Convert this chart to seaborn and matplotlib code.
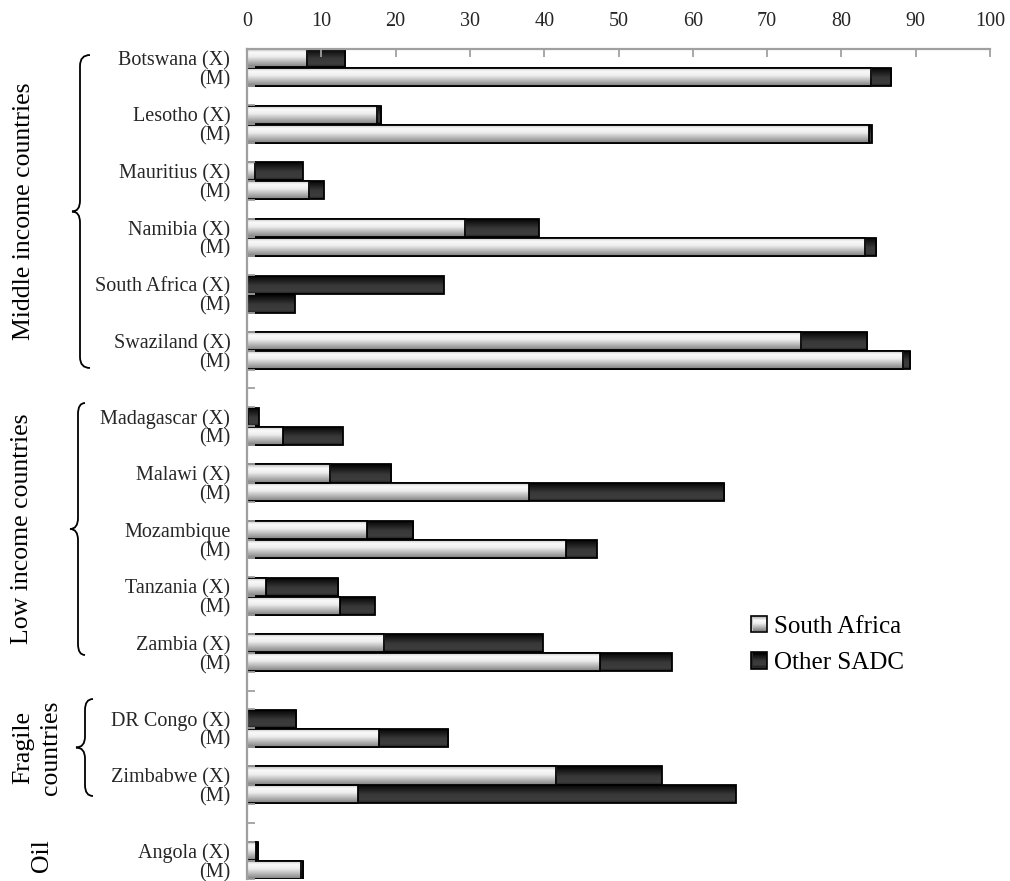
import numpy as np
import pandas as pd
import matplotlib
matplotlib.use("Agg")
import matplotlib.pyplot as plt
import seaborn as sns
from matplotlib.patches import Patch, PathPatch
from matplotlib.path import Path
from matplotlib.image import BboxImage
from matplotlib.transforms import Bbox, Affine2D

# ---------------------------------------------------------------- data
countries = ["Botswana", "Lesotho", "Mauritius", "Namibia", "South Africa", "Swaziland",
             "Madagascar", "Malawi", "Mozambique", "Tanzania", "Zambia",
             "DR Congo", "Zimbabwe", "Angola"]
export_labels = ["Botswana (X)", "Lesotho (X)", "Mauritius (X)", "Namibia (X)",
                 "South Africa (X)", "Swaziland (X)", "Madagascar (X)", "Malawi (X)",
                 "Mozambique", "Tanzania (X)", "Zambia (X)", "DR Congo (X)",
                 "Zimbabwe (X)", "Angola (X)"]
import_label = "(M)"
group_names = ["Middle income countries", "Low income countries", "Fragile\ncountries", "Oil"]
group_sizes = [6, 5, 2, 1]

# share of exports (X) / imports (M) going to / coming from, in %
sa_exports = [8.1, 17.5, 1.1, 29.4, 0.0, 74.6, 0.1, 11.2, 16.1, 2.5, 18.5, 0.0, 41.6, 1.2]
other_exports = [5.1, 0.6, 6.4, 9.9, 26.5, 8.9, 1.5, 8.2, 6.3, 9.8, 21.3, 6.6, 14.2, 0.3]
sa_imports = [84.0, 83.7, 8.4, 83.2, 0.0, 88.3, 4.8, 37.9, 42.9, 12.5, 47.5, 17.7, 14.9, 7.3]
other_imports = [2.7, 0.4, 1.9, 1.5, 6.4, 1.0, 8.1, 26.3, 4.2, 4.7, 9.7, 9.4, 50.9, 0.3]

series_names = ["South Africa", "Other SADC"]
x_ticks = list(range(0, 101, 10))

# ---------------------------------------------------------------- row layout
order, tick_text = [], []
records = []
i = 0
for gi, n in enumerate(group_sizes):
    for j in range(n):
        c = countries[i]
        for flow, lab, sa, oth in (("X", export_labels[i], sa_exports[i], other_exports[i]),
                                   ("M", import_label, sa_imports[i], other_imports[i])):
            key = f"{c}|{flow}"
            order.append(key)
            tick_text.append(lab)
            records.append({"row": key, "sa": sa, "total": sa + oth})
        if j < n - 1:
            order.append(f"gap{len(order)}")
            tick_text.append("")
        i += 1
    if gi < len(group_sizes) - 1:
        for _ in range(2):
            order.append(f"gap{len(order)}")
            tick_text.append("")
df = pd.DataFrame(records)
n_rows = len(order)

# ---------------------------------------------------------------- style
sns.set_style("ticks")
plt.rcParams["font.family"] = ["Liberation Serif", "DejaVu Serif"]
plt.rcParams["text.color"] = "black"

W, H = 1010, 881
fig = plt.figure(figsize=(W / 100, H / 100), dpi=100)
ax = fig.add_axes([247 / W, 1 - 879.4 / H, (990 - 247) / W, (879.4 - 48.6) / H])

dark_mid, light_mid = "#2a2a2a", "#c8c8c8"
bar_w = 0.96
sns.barplot(data=df, x="total", y="row", order=order, orient="h", color=dark_mid,
            saturation=1, width=bar_w, edgecolor="black", linewidth=1.3,
            errorbar=None, ax=ax)
n_dark = len(ax.patches)
sns.barplot(data=df[df["sa"] > 0], x="sa", y="row", order=order, orient="h",
            color=light_mid, saturation=1, width=bar_w, edgecolor="black",
            linewidth=1.3, errorbar=None, ax=ax)


def ramp(stops, n=64):
    t = np.linspace(0, 1, n)
    v = np.interp(t, [s[0] for s in stops], [s[1] for s in stops])
    return np.repeat(np.repeat(v[:, None, None], 2, axis=1), 3, axis=2)


light_grad = ramp([(0, 0.72), (0.22, 0.98), (0.45, 0.93), (1.0, 0.50)])
dark_grad = ramp([(0, 0.0), (0.55, 0.22), (0.85, 0.24), (1.0, 0.12)])

# gradient fills clipped to each bar
for k, p in enumerate(list(ax.patches)):
    grad = dark_grad if k < n_dark else light_grad
    z = 2 if k < n_dark else 4
    x0, y0, w, h = p.get_x(), p.get_y(), p.get_width(), p.get_height()
    im = ax.imshow(grad, extent=(x0, x0 + w, y0 + h, y0), aspect="auto",
                   interpolation="bilinear", zorder=z)
    im.set_clip_path(p)
    p.set_facecolor("none")
    p.set_zorder(z + 0.5)

ax.set_xlim(0, 100)
ax.set_ylim(n_rows - 0.5, -0.5)
ax.set_xlabel("")
ax.set_ylabel("")

# axes: value axis on top, category axis on the left
grey = "#a0a0a0"
ax.xaxis.tick_top()
ax.set_xticks(x_ticks)
ax.set_xticklabels([str(t) for t in x_ticks])
ax.tick_params(axis="x", which="major", direction="in", length=6, width=1.3,
               color=grey, pad=12.5, labelsize=14.5, top=True, bottom=False)
ax.set_yticks(range(n_rows))
ax.set_yticklabels(tick_text)
ax.tick_params(axis="y", which="major", length=0, pad=12, labelsize=14.5, left=True)
ax.set_yticks(np.arange(-0.5, n_rows, 1.0), minor=True)
ax.tick_params(axis="y", which="minor", direction="in", length=6, width=1.3,
               color=grey, left=True)
for s in ("right", "bottom"):
    ax.spines[s].set_visible(False)
for s in ("left", "top"):
    ax.spines[s].set_color(grey)
    ax.spines[s].set_linewidth(1.6)
    ax.spines[s].set_zorder(10)
ax.xaxis.set_zorder(10)
ax.yaxis.set_zorder(10)

# legend
handles = [Patch(facecolor=light_mid, edgecolor="black", linewidth=1.2, label=series_names[0]),
           Patch(facecolor=dark_mid, edgecolor="black", linewidth=1.2, label=series_names[1])]
leg = ax.legend(handles=handles, loc="center left", bbox_to_anchor=(751 / W, 1 - 645 / H),
                bbox_transform=fig.transFigure, frameon=False, fontsize=18,
                handlelength=0.62, handleheight=0.62, handletextpad=0.3,
                labelspacing=0.58, borderpad=0, borderaxespad=0)
leg.set_zorder(20)

# group braces and labels, positioned in pixel space (origin top-left)
px = Affine2D().scale(1 / W, -1 / H).translate(0, 1) + fig.transFigure


def brace(x_end, x_col, x_tip, y_top, y_bot, r=11):
    ym = (y_top + y_bot) / 2
    verts = [(x_end, y_top), (x_col, y_top), (x_col, y_top + r),
             (x_col, ym - r),
             (x_col, ym), (x_tip, ym),
             (x_col, ym), (x_col, ym + r),
             (x_col, y_bot - r),
             (x_col, y_bot), (x_end, y_bot)]
    codes = [Path.MOVETO, Path.CURVE3, Path.CURVE3, Path.LINETO, Path.CURVE3, Path.CURVE3,
             Path.CURVE3, Path.CURVE3, Path.LINETO, Path.CURVE3, Path.CURVE3]
    fig.add_artist(PathPatch(Path(verts, codes), facecolor="none", edgecolor="black",
                             linewidth=1.3, transform=px))


brace(90, 80, 72, 55, 368)
brace(85, 78, 70, 403, 655)
brace(93, 85, 76, 699, 796)

label_pos = [(24, 211), (22, 529), (37, 748), (42, 856)]
for name, (lx, ly) in zip(group_names, label_pos):
    fig.text(lx, ly, name, transform=px, rotation=90, ha="center", va="center",
             fontsize=18.5, multialignment="center", linespacing=1.35)

# gradient swatches in the legend
fig.canvas.draw()
renderer = fig.canvas.get_renderer()
for p, grad in zip(leg.get_patches(), (light_grad, dark_grad)):
    bb = p.get_window_extent(renderer)
    inner = Bbox.from_extents(bb.x0 + 1.5, bb.y0 + 1.5, bb.x1 - 1.5, bb.y1 - 1.5)
    bim = BboxImage(inner, data=grad, interpolation="bilinear")
    bim.set_zorder(30)
    fig.add_artist(bim)

fig.savefig("out.png", dpi=100)
